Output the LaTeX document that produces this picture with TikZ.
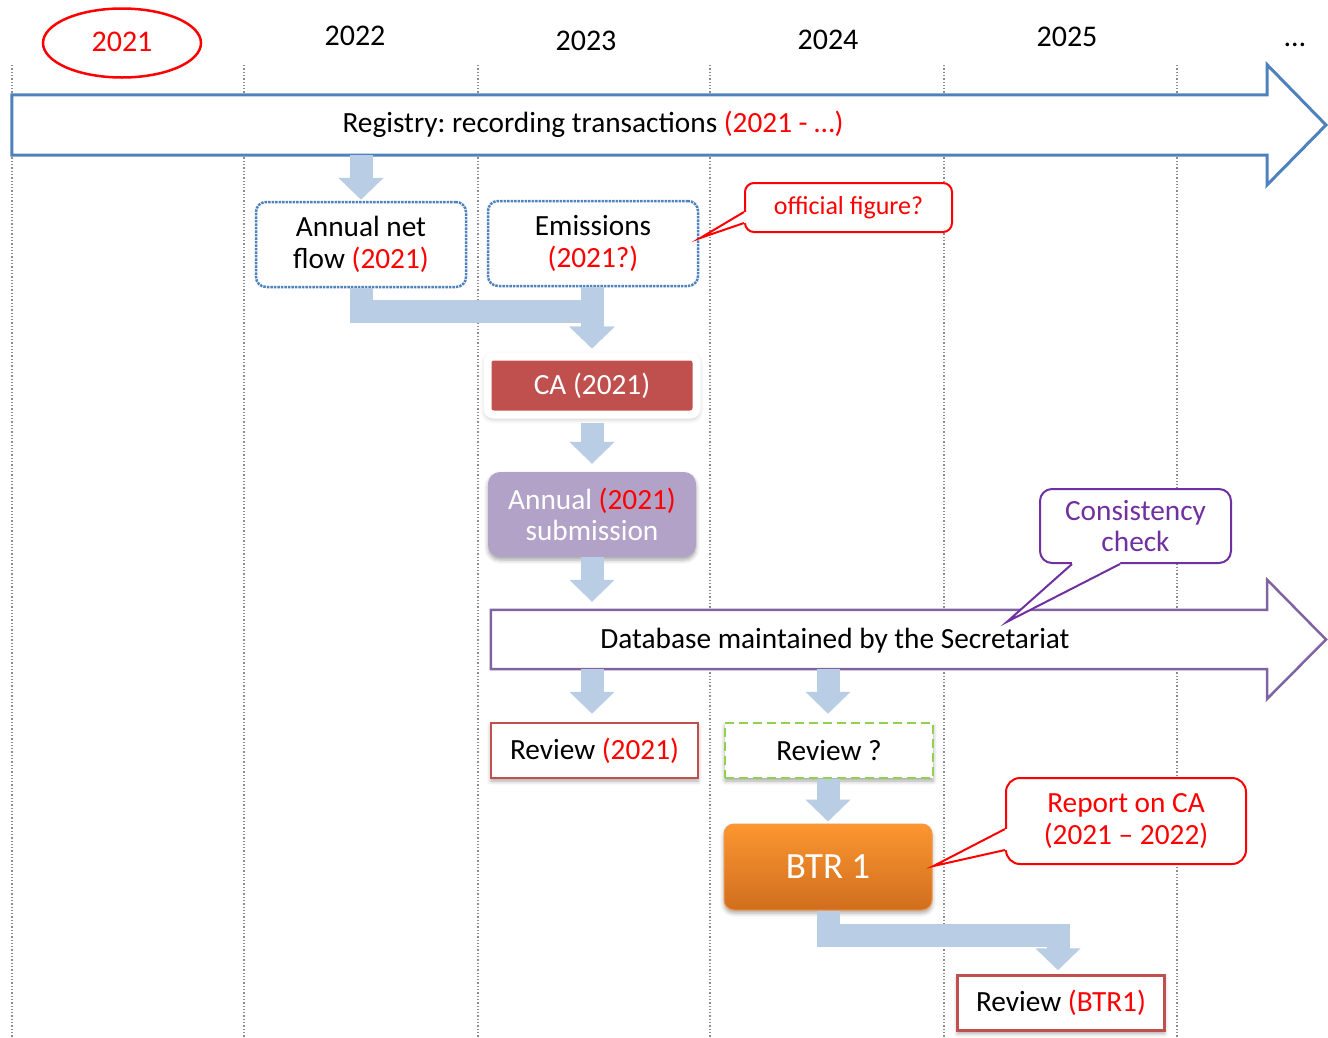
\documentclass[tikz,border=0pt]{standalone}
\usepackage{fontspec}
\setmainfont{Carlito}
\frenchspacing
\usetikzlibrary{arrows.meta,calc,shapes.geometric,shadows.blur}

\definecolor{regblue}{HTML}{4F81BD}
\definecolor{flowblue}{HTML}{B9CDE5}
\definecolor{dbpurple}{HTML}{8064A2}
\definecolor{violet}{HTML}{7030A0}
\definecolor{brick}{HTML}{C0504D}
\definecolor{lilac}{HTML}{B2A2C7}
\definecolor{leaf}{HTML}{92D050}
\definecolor{orangetop}{HTML}{FB9630}
\definecolor{orangebot}{HTML}{D06E1E}
\definecolor{orangeline}{HTML}{F79646}
\definecolor{hot}{HTML}{FF0000}

\tikzset{
  txt/.style={font=\fontsize{29.3}{31.5}\selectfont, align=center, inner sep=0pt},
  year/.style={font=\fontsize{30}{32}\selectfont, inner sep=0pt},
  yearline/.style={draw=black!45, line width=1.3pt, dotted},
  softshadow/.style={blur shadow={shadow xshift=0pt, shadow yshift=-3pt, shadow blur radius=4pt, shadow opacity=35}},
  glowshadow/.style={blur shadow={shadow xshift=0pt, shadow yshift=-2pt, shadow blur radius=7pt, shadow opacity=40}},
  sourcebox/.style={txt, draw=regblue, line width=2.5pt, densely dotted, rounded corners=10pt, fill=white,
                    minimum width=210pt, minimum height=85pt},
  reviewbox/.style={txt, draw=brick, line width=2.5pt, fill=white, minimum width=207pt, minimum height=55pt, softshadow},
  callout/.style={txt, line width=2pt, fill=white, rounded corners=12pt},
  flow/.style={draw=flowblue, line width=23pt, line join=miter, -{Triangle[length=22pt,width=44pt]}},
}

\begin{document}
\begin{tikzpicture}[x=1pt, y=-1pt]
\useasboundingbox (0,0) rectangle (1328,1037);

% year columns
\foreach \xx in {12,244,478,710,944,1177}
  \draw[yearline] (\xx,65) -- (\xx,1037);

\node[year, text=hot] (y2021) at (122,42) {2021};
\node[draw=hot, line width=2.5pt, ellipse, minimum width=158pt, minimum height=69pt] (ring) at (122,43) {};
\node[year] (y2022) at (355,36) {2022};
\node[year] (y2023) at (586,41) {2023};
\node[year] (y2024) at (828,40) {2024};
\node[year] (y2025) at (1067,37) {2025};
\node[year] (ymore) at (1295,45) {\ldots};

% registry band
\node[inner sep=0pt, minimum width=1255pt, minimum height=60pt] (regbody) at (639.5,125) {};
\draw[draw=regblue, line width=3pt, fill=white, line join=miter]
  (regbody.north west) -- (regbody.north east) -- ++(0,-30) -- (1326,125)
  -- (1267,185) -- (regbody.south east) -- (regbody.south west) -- cycle;
\node[txt] (regtext) at (593,124)
  {Registry: recording transactions \textcolor{hot}{(2021 - …)}};

% database band
\node[inner sep=0pt, minimum width=776pt, minimum height=59pt] (dbbody) at (879,639.5) {};
\draw[draw=dbpurple, line width=2.5pt, fill=white, line join=miter]
  (dbbody.north west) -- (dbbody.north east) -- ++(0,-30) -- (1326,639.5)
  -- (1267,699) -- (dbbody.south east) -- (dbbody.south west) -- cycle;
\node[txt] (dbtext) at (835,641)
  {Database maintained by the Secretariat};

% boxes
\node[sourcebox] (anf) at (361,244.5) {Annual net\\flow \textcolor{hot}{(2021)}};
\node[sourcebox] (em) at (593,243.5) {Emissions\\\textcolor{hot}{(2021?)}};
\node[txt, text=white, fill=brick, draw=white, line width=8pt, rounded corners=6pt,
      minimum width=209pt, minimum height=58pt, glowshadow] (ca) at (592,385.5) {CA (2021)};
\node[txt, text=white, fill=lilac, rounded corners=12pt, minimum width=208pt, minimum height=85pt,
      softshadow] (sub) at (592,514.5) {Annual \textcolor{hot}{(2021)}\\submission};
\node[reviewbox] (rev1) at (594.5,750.5) {Review \textcolor{hot}{(2021)}};
\node[txt, draw=leaf, line width=2.5pt, dash pattern=on 9pt off 5pt, fill=white,
      minimum width=208pt, minimum height=55pt, softshadow] (revq) at (829,750.5) {Review ?};
\node[txt, font=\fontsize{37}{40}\selectfont, text=white, top color=orangetop, bottom color=orangebot,
      draw=orangeline, line width=1pt, rounded corners=10pt, minimum width=208pt, minimum height=86pt,
      softshadow] (btr) at (828,867) {BTR 1};
\node[reviewbox] (rev2) at (1061,1003) {Review \textcolor{hot}{(BTR1)}};

% callouts
\node[callout, font=\fontsize{26}{30}\selectfont, draw=hot, text=hot, rounded corners=9pt,
      minimum width=207pt, minimum height=49pt] (off) at (848.5,207.5) {official figure?};
\node[callout, draw=violet, text=violet, minimum width=191pt, minimum height=74pt]
  (cons) at (1135.5,526) {Consistency\\check};
\node[callout, draw=hot, text=hot, rounded corners=14pt, minimum width=240pt, minimum height=86pt]
  (rep) at (1126,821) {Report on CA\\(2021 – 2022)};

% callout pointers
\fill[white] ($(off.west)+(3,4.5)$) -- ($(off.west)+(0,4.5)$) -- ($(em.east)+(1,-5.5)$)
  -- ($(off.west)+(0,15.5)$) -- ($(off.west)+(3,15.5)$) -- cycle;
\draw[hot, line width=2pt, line join=miter] ($(off.west)+(0,4.5)$) -- ($(em.east)+(1,-5.5)$) -- ($(off.west)+(0,15.5)$);

\fill[white] ($(cons.south)+(-63.5,-3)$) -- ($(cons.south)+(-63.5,0)$) -- ($(dbbody.north)+(128,12)$)
  -- ($(cons.south)+(-15.5,0)$) -- ($(cons.south)+(-15.5,-3)$) -- cycle;
\draw[violet, line width=2pt, line join=miter] ($(cons.south)+(-63.5,0)$) -- ($(dbbody.north)+(128,12)$) -- ($(cons.south)+(-15.5,0)$);

\fill[white] ($(rep.west)+(3,8)$) -- ($(rep.west)+(0,8)$) -- ($(btr.east)+(1,-1)$)
  -- ($(rep.west)+(0,29)$) -- ($(rep.west)+(3,29)$) -- cycle;
\draw[hot, line width=2pt, line join=miter] ($(rep.west)+(0,8)$) -- ($(btr.east)+(1,-1)$) -- ($(rep.west)+(0,29)$);

% process flow
\draw[flow] (anf.north |- regbody.south) -- ($(anf.north)+(0,-1)$);
\draw[flow] (anf.south) -- ++(0,23.5) -| ($(ca.north)+(0,-4)$);
\draw[flow] (ca.north |- em.south) -- ($(ca.north)+(0,-4)$);
\draw[flow] ($(ca.south)+(0,4)$) -- ($(sub.north)+(0,-8)$);
\draw[flow] (sub.south) -- ($(sub.north |- dbbody.north)+(0,-8)$);
\draw[flow] (sub.south |- dbbody.south) -- ($(rev1.north -| sub.south)+(0,-8)$);
\draw[flow] (btr.north |- dbbody.south) -- ($(btr.north |- revq.north)+(0,-8)$);
\draw[flow] (btr.north |- revq.south) -- ($(btr.north)+(0,-2)$);
\draw[flow] (btr.south) -- ++(0,25) -| ($(rev2.north)+(-3,-4)$);
\end{tikzpicture}
\end{document}
